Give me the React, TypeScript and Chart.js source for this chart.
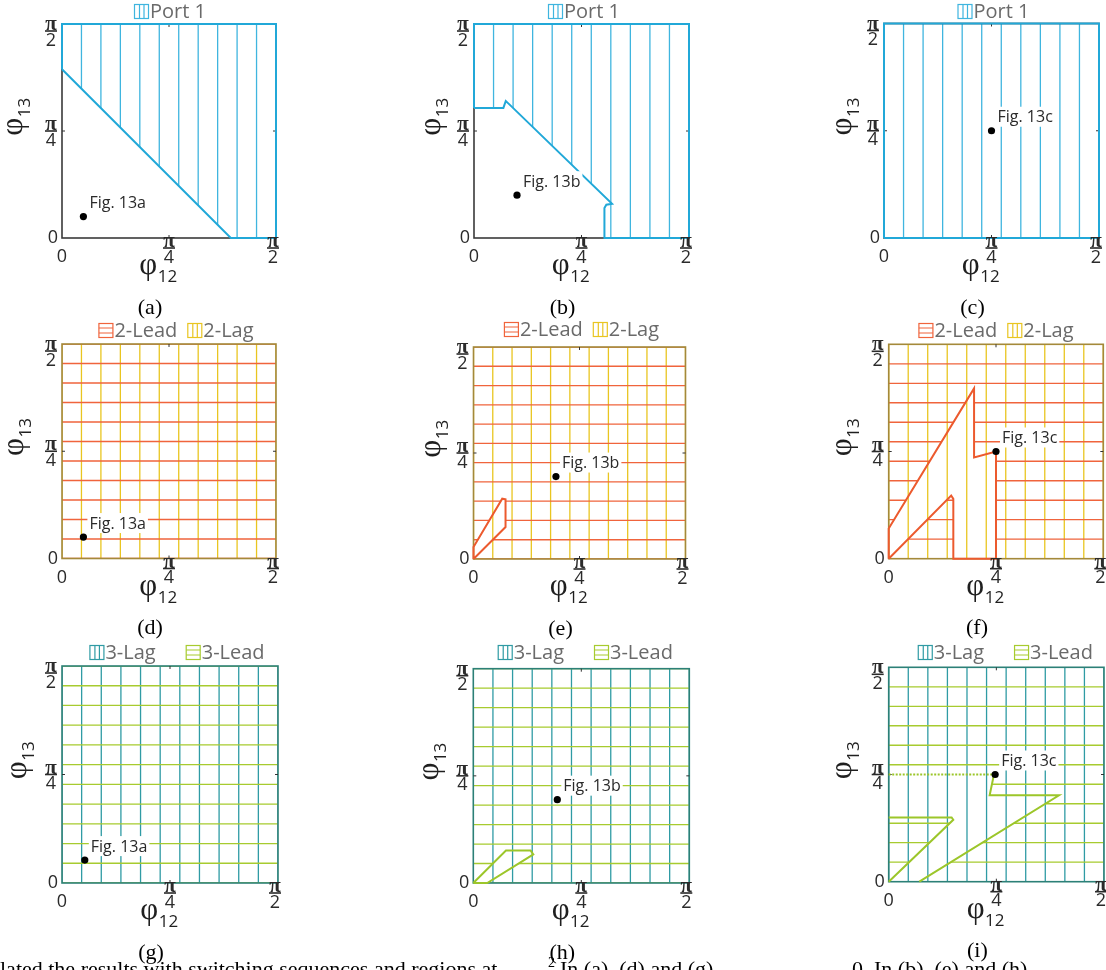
import React, { useEffect, useRef } from "react";
import { Chart, registerables } from "chart.js";

Chart.register(...registerables);

type Pt = [number, number];

// Angles are stored in degrees: 90 corresponds to π/2.
const AXIS_MIN = 0;
const AXIS_MAX = 90;
const TICK_VALUES = [0, 45, 90];
const TICK_NUMERATORS = ["", "π", "π"];
const TICK_DENOMINATORS = ["0", "4", "2"];
const HATCH_COUNT = 11;

const FULL_SQUARE: Pt[] = [[0, 0], [0, 90], [90, 90], [90, 0]];

// Port 1 admissible regions
const port1RegionA: Pt[] = [[0, 71], [0, 90], [90, 90], [90, 0], [71, 0]];
const port1RegionB: Pt[] = [
  [0, 54.7], [12.3, 54.7], [13.3, 57.6], [14.8, 56.2], [57.8, 14.4], [55.4, 14.0],
  [54.6, 12.6], [54.6, 0], [90, 0], [90, 90], [0, 90],
];
const port1RegionC: Pt[] = FULL_SQUARE;

// Holes cut out of the otherwise full 2-Lead / 3-Lead regions
const lead2HoleE: Pt[] = [[0, 0], [0, 5.1], [12.2, 25.6], [13.6, 25.3], [13.6, 13.6]];
const lead2HoleF: Pt[] = [
  [0, 0], [0, 12.7], [35.8, 71.5], [35.8, 42.5], [45, 45], [45, 0], [27.1, 0], [27.1, 25.1], [26.2, 26.5],
];
const lead3HoleH: Pt[] = [[0, 0], [13.6, 13.6], [23.9, 13.6], [25, 12], [5.8, 0]];
const lead3HoleI: Pt[] = [
  [0, 45], [44, 45], [42.2, 36.3], [71.2, 36.3], [12.8, 0], [0, 0], [27, 26], [26.3, 27], [0, 27],
];
const lead3EdgeUpperI: Pt[] = [[44, 45], [42.2, 36.3], [71.2, 36.3], [12.8, 0]];
const lead3EdgeLowerI: Pt[] = [[0, 0], [27, 26], [26.3, 27], [0, 27]];
const lead3DottedEdgeI: Pt[] = [[0, 45], [44, 45]];

// Operating points marked in each panel
const operatingX = [9, 18, 45, 9, 35, 45, 9.5, 35, 44.5];
const operatingY = [9, 18, 45, 9, 35, 45, 9.5, 35, 45];
const operatingLabels = ["Fig. 13a", "Fig. 13b", "Fig. 13c", "Fig. 13a", "Fig. 13b", "Fig. 13c", "Fig. 13a", "Fig. 13b", "Fig. 13c"];
const captions = ["(a)", "(b)", "(c)", "(d)", "(e)", "(f)", "(g)", "(h)", "(i)"];

const PORT1 = { name: "Port 1", color: "#3fb5df", dir: "v" as const };
const LEAD2 = { name: "2-Lead", color: "#f0643c", dir: "h" as const };
const LAG2 = { name: "2-Lag", color: "#e9c520", dir: "v" as const };
const LAG3 = { name: "3-Lag", color: "#2f9ba4", dir: "v" as const };
const LEAD3 = { name: "3-Lead", color: "#a7cb2f", dir: "h" as const };

interface Region { name: string; color: string; dir: "v" | "h"; area: Pt[]; holes: Pt[][] }
interface Outline { pts: Pt[]; color: string; closed?: boolean; dash?: number[] }
interface Box { left: number; top: number; width: number; height: number }
interface Panel {
  idx: number;
  canvas: { x: number; y: number; w: number; h: number };
  area: Box;
  regions: Region[];
  legend: { name: string; color: string; dir: "v" | "h" }[];
  legendGap: number;
  legendDx: number;
  legendY: number;
  outlines: Outline[];
  boxColor: string;
  yTitleDx: number;
}

const COL_X = [0, 400, 810];
const COL_W = [400, 410, 296];
const ROW_Y = [0, 320, 640];
const ROW_H = [320, 320, 330];

const AREAS: Box[] = [
  { left: 62, top: 24, width: 214, height: 214 },
  { left: 474, top: 24, width: 215, height: 214 },
  { left: 884, top: 23.5, width: 215, height: 214.5 },
  { left: 62, top: 344, width: 214, height: 214.5 },
  { left: 473.5, top: 347, width: 212, height: 212 },
  { left: 888.7, top: 344.3, width: 214.6, height: 214.4 },
  { left: 62, top: 666, width: 216, height: 217 },
  { left: 473.3, top: 668.7, width: 216, height: 214.3 },
  { left: 888.7, top: 667.3, width: 215.3, height: 214.4 },
];
const LEGEND_Y = [11, 11, 11, 330, 329, 330, 652, 652, 652];
const LEGEND_DX = [1, 2.5, 2, 7, 2, 0, 7, 4, 9];
const Y_TITLE_DX = [-45, -39, -38, -44, -39, -43, -41, -40, -43];

function reg(s: { name: string; color: string; dir: "v" | "h" }, area: Pt[], holes: Pt[][] = []): Region {
  return { ...s, area, holes };
}

const panelContent: Pick<Panel, "regions" | "legend" | "legendGap" | "outlines" | "boxColor">[] = [
  { regions: [reg(PORT1, port1RegionA)], legend: [PORT1], legendGap: 0, outlines: [{ pts: port1RegionA, color: "#21a8d8", closed: true }], boxColor: "#3a3a3a" },
  { regions: [reg(PORT1, port1RegionB)], legend: [PORT1], legendGap: 0, outlines: [{ pts: port1RegionB, color: "#21a8d8", closed: true }], boxColor: "#3a3a3a" },
  { regions: [reg(PORT1, port1RegionC)], legend: [PORT1], legendGap: 0, outlines: [{ pts: port1RegionC, color: "#21a8d8", closed: true }], boxColor: "#3a3a3a" },
  { regions: [reg(LAG2, FULL_SQUARE), reg(LEAD2, FULL_SQUARE)], legend: [LEAD2, LAG2], legendGap: 10, outlines: [], boxColor: "#a4893a" },
  { regions: [reg(LAG2, FULL_SQUARE), reg(LEAD2, FULL_SQUARE, [lead2HoleE])], legend: [LEAD2, LAG2], legendGap: 10, outlines: [{ pts: lead2HoleE, color: "#ec5a2e", closed: true }], boxColor: "#a4893a" },
  { regions: [reg(LAG2, FULL_SQUARE), reg(LEAD2, FULL_SQUARE, [lead2HoleF])], legend: [LEAD2, LAG2], legendGap: 10, outlines: [{ pts: lead2HoleF, color: "#ec5a2e", closed: true }], boxColor: "#a4893a" },
  { regions: [reg(LAG3, FULL_SQUARE), reg(LEAD3, FULL_SQUARE)], legend: [LAG3, LEAD3], legendGap: 30, outlines: [], boxColor: "#2c8077" },
  { regions: [reg(LAG3, FULL_SQUARE), reg(LEAD3, FULL_SQUARE, [lead3HoleH])], legend: [LAG3, LEAD3], legendGap: 30, outlines: [{ pts: lead3HoleH, color: "#9cc62a", closed: true }], boxColor: "#2c8077" },
  {
    regions: [reg(LAG3, FULL_SQUARE), reg(LEAD3, FULL_SQUARE, [lead3HoleI])], legend: [LAG3, LEAD3], legendGap: 30,
    outlines: [
      { pts: lead3EdgeUpperI, color: "#9cc62a" },
      { pts: lead3EdgeLowerI, color: "#9cc62a" },
      { pts: lead3DottedEdgeI, color: "#9cc62a", dash: [2, 1.5] },
    ],
    boxColor: "#2c8077",
  },
];

const PANELS: Panel[] = panelContent.map((c, i) => {
  const col = i % 3;
  const row = Math.floor(i / 3);
  return {
    ...c,
    idx: i,
    canvas: { x: COL_X[col], y: ROW_Y[row], w: COL_W[col], h: ROW_H[row] },
    area: AREAS[i],
    legendDx: LEGEND_DX[i],
    legendY: LEGEND_Y[i] - ROW_Y[row],
    yTitleDx: Y_TITLE_DX[i],
  };
});

const TEXT_FONT = "'Open Sans', 'DejaVu Sans', sans-serif";
const PI_FONT = "bold 21px 'Liberation Serif', serif";
const PHI_FONT = "31px 'Liberation Serif', serif";

function drawFraction(ctx: CanvasRenderingContext2D, cx: number, barY: number, num: string, den: string) {
  ctx.fillStyle = "#2b2b2b";
  ctx.textAlign = "center";
  ctx.textBaseline = "alphabetic";
  ctx.font = PI_FONT;
  ctx.fillText(num, cx, barY - 1);
  ctx.fillRect(cx - 6, barY - 0.8, 12, 1.6);
  ctx.font = `18px ${TEXT_FONT}`;
  ctx.fillText(den, cx, barY + 14.5);
}

function drawPhiTitle(ctx: CanvasRenderingContext2D, sub: string) {
  ctx.fillStyle = "#1f1f1f";
  ctx.textBaseline = "alphabetic";
  ctx.textAlign = "left";
  ctx.font = PHI_FONT;
  const wPhi = ctx.measureText("φ").width;
  ctx.font = `17px ${TEXT_FONT}`;
  const wSub = ctx.measureText(sub).width;
  const x0 = -(wPhi + wSub) / 2;
  ctx.font = PHI_FONT;
  ctx.fillText("φ", x0, 5);
  ctx.font = `17px ${TEXT_FONT}`;
  ctx.fillText(sub, x0 + wPhi + 0.5, 13);
}

function drawLegend(ctx: CanvasRenderingContext2D, cx: number, cy: number, entries: Panel["legend"], gap: number) {
  ctx.font = `20px ${TEXT_FONT}`;
  const iconW = 15;
  const widths = entries.map((e) => iconW + 1 + ctx.measureText(e.name).width);
  const total = widths.reduce((a, b) => a + b, 0) + gap * (entries.length - 1);
  let x = cx - total / 2;
  entries.forEach((e, i) => {
    const top = cy - 7;
    ctx.strokeStyle = e.color;
    ctx.lineWidth = 1.2;
    ctx.strokeRect(x + 0.5, top + 0.5, iconW - 1, 14);
    ctx.beginPath();
    if (e.dir === "v") {
      ctx.moveTo(x + 5.5, top + 0.5); ctx.lineTo(x + 5.5, top + 14.5);
      ctx.moveTo(x + 10, top + 0.5); ctx.lineTo(x + 10, top + 14.5);
    } else {
      ctx.moveTo(x + 0.5, top + 5); ctx.lineTo(x + iconW - 0.5, top + 5);
      ctx.moveTo(x + 0.5, top + 10); ctx.lineTo(x + iconW - 0.5, top + 10);
    }
    ctx.stroke();
    ctx.fillStyle = "#6a6a6a";
    ctx.textAlign = "left";
    ctx.textBaseline = "middle";
    ctx.fillText(e.name, x + iconW + 1, cy + 1);
    x += widths[i] + gap;
  });
}

function makeDecorPlugin(panel: Panel) {
  return {
    id: "panelDecor",
    beforeDatasetsDraw(chart: Chart) {
      const { ctx, chartArea } = chart;
      const xs = chart.scales.x;
      const ys = chart.scales.y;
      const trace = (poly: Pt[]) => {
        poly.forEach(([vx, vy], k) => {
          const px = xs.getPixelForValue(vx);
          const py = ys.getPixelForValue(vy);
          if (k === 0) ctx.moveTo(px, py); else ctx.lineTo(px, py);
        });
        ctx.closePath();
      };
      // hatched regions
      for (const r of panel.regions) {
        ctx.save();
        ctx.beginPath();
        trace(r.area);
        r.holes.forEach(trace);
        ctx.clip("evenodd");
        ctx.strokeStyle = r.color;
        ctx.lineWidth = 1.3;
        ctx.beginPath();
        for (let k = 0; k <= HATCH_COUNT; k++) {
          const v = (k * AXIS_MAX) / HATCH_COUNT;
          if (r.dir === "v") {
            const px = xs.getPixelForValue(v);
            ctx.moveTo(px, chartArea.top);
            ctx.lineTo(px, chartArea.bottom);
          } else {
            const py = ys.getPixelForValue(v);
            ctx.moveTo(chartArea.left, py);
            ctx.lineTo(chartArea.right, py);
          }
        }
        ctx.stroke();
        ctx.restore();
      }
      // axes box and inner ticks
      ctx.save();
      ctx.strokeStyle = panel.boxColor;
      ctx.lineWidth = 1.6;
      ctx.strokeRect(chartArea.left, chartArea.top, chartArea.right - chartArea.left, chartArea.bottom - chartArea.top);
      ctx.strokeStyle = "#333";
      ctx.lineWidth = 1;
      ctx.beginPath();
      const mx = xs.getPixelForValue(45);
      const my = ys.getPixelForValue(45);
      ctx.moveTo(mx, chartArea.bottom); ctx.lineTo(mx, chartArea.bottom - 3);
      ctx.moveTo(mx, chartArea.top); ctx.lineTo(mx, chartArea.top + 3);
      ctx.moveTo(chartArea.left, my); ctx.lineTo(chartArea.left + 3, my);
      ctx.moveTo(chartArea.right, my); ctx.lineTo(chartArea.right - 3, my);
      ctx.stroke();
      ctx.restore();
    },
    afterDatasetsDraw(chart: Chart) {
      const { ctx, chartArea } = chart;
      const xs = chart.scales.x;
      const ys = chart.scales.y;
      const i = panel.idx;
      ctx.save();

      // operating point label with white backing
      const dx = xs.getPixelForValue(operatingX[i]);
      const dy = ys.getPixelForValue(operatingY[i]);
      ctx.font = `16px ${TEXT_FONT}`;
      const lw = ctx.measureText(operatingLabels[i]).width;
      ctx.fillStyle = "#ffffff";
      ctx.fillRect(dx + 4, dy - 24, lw + 4, 20);
      ctx.fillStyle = "#2a2a2a";
      ctx.textAlign = "left";
      ctx.textBaseline = "middle";
      ctx.fillText(operatingLabels[i], dx + 6, dy - 13);
      ctx.beginPath();
      ctx.arc(dx, dy, 3.6, 0, Math.PI * 2);
      ctx.fillStyle = "#000";
      ctx.fill();

      // y tick labels
      TICK_VALUES.forEach((v, k) => {
        const py = ys.getPixelForValue(v);
        if (!TICK_NUMERATORS[k]) {
          ctx.font = `18px ${TEXT_FONT}`;
          ctx.fillStyle = "#2b2b2b";
          ctx.textAlign = "right";
          ctx.textBaseline = "middle";
          ctx.fillText(TICK_DENOMINATORS[k], chartArea.left - 4, py);
        } else {
          const barY = v === AXIS_MAX ? py + 7 : py;
          drawFraction(ctx, chartArea.left - 11, barY, TICK_NUMERATORS[k], TICK_DENOMINATORS[k]);
        }
      });
      // x tick labels
      TICK_VALUES.forEach((v, k) => {
        const px = xs.getPixelForValue(v);
        if (!TICK_NUMERATORS[k]) {
          ctx.font = `18px ${TEXT_FONT}`;
          ctx.fillStyle = "#2b2b2b";
          ctx.textAlign = "center";
          ctx.textBaseline = "middle";
          ctx.fillText(TICK_DENOMINATORS[k], px, chartArea.bottom + 19);
        } else {
          const cx = v === AXIS_MAX ? px - 3 : px;
          drawFraction(ctx, cx, chartArea.bottom + 10, TICK_NUMERATORS[k], TICK_DENOMINATORS[k]);
        }
      });

      const midX = (chartArea.left + chartArea.right) / 2;
      const midY = (chartArea.top + chartArea.bottom) / 2;

      // axis titles
      ctx.save();
      ctx.translate(midX - 11, chartArea.bottom + 31);
      drawPhiTitle(ctx, "12");
      ctx.restore();
      ctx.save();
      ctx.translate(chartArea.left + panel.yTitleDx, midY - 14);
      ctx.rotate(-Math.PI / 2);
      drawPhiTitle(ctx, "13");
      ctx.restore();

      // legend
      drawLegend(ctx, midX + panel.legendDx, panel.legendY, panel.legend, panel.legendGap);

      // caption
      ctx.font = "22px 'Liberation Serif', serif";
      ctx.fillStyle = "#000";
      ctx.textAlign = "center";
      ctx.textBaseline = "middle";
      ctx.fillText(captions[i], midX - 19, chartArea.bottom + 70);
      ctx.restore();
    },
  };
}

function toXY(pts: Pt[], closed?: boolean) {
  const out = pts.map(([x, y]) => ({ x, y }));
  if (closed) out.push({ x: pts[0][0], y: pts[0][1] });
  return out;
}

function PanelChart({ panel }: { panel: Panel }) {
  const ref = useRef<HTMLCanvasElement>(null);
  const c = panel.canvas;
  useEffect(() => {
    if (!ref.current) return;
    const a = panel.area;
    const padding = {
      left: a.left - c.x,
      top: a.top - c.y,
      right: c.x + c.w - (a.left + a.width),
      bottom: c.y + c.h - (a.top + a.height),
    };
    const datasets: any[] = panel.outlines.map((o) => ({
      data: toXY(o.pts, o.closed),
      showLine: true,
      borderColor: o.color,
      borderWidth: 2,
      borderDash: o.dash || [],
      pointRadius: 0,
      fill: false,
      clip: 6,
      tension: 0,
    }));
    const chart = new Chart(ref.current, {
      type: "scatter",
      data: { datasets },
      options: {
        responsive: false,
        animation: false,
        devicePixelRatio: 1,
        layout: { padding },
        scales: {
          x: { type: "linear", min: AXIS_MIN, max: AXIS_MAX, display: false },
          y: { type: "linear", min: AXIS_MIN, max: AXIS_MAX, display: false },
        },
        plugins: { legend: { display: false }, tooltip: { enabled: false } },
      },
      plugins: [makeDecorPlugin(panel)],
    });
    return () => chart.destroy();
  }, [panel]);
  return (
    <canvas
      ref={ref}
      width={c.w}
      height={c.h}
      style={{ position: "absolute", left: c.x, top: c.y, width: c.w, height: c.h }}
    />
  );
}

export default function App() {
  return (
    <div style={{ position: "absolute", left: 0, top: 0, width: 1106, height: 970, overflow: "hidden", background: "#fff" }}>
      {PANELS.map((p) => (
        <PanelChart key={p.idx} panel={p} />
      ))}
      <div
        style={{
          position: "absolute", left: 0, top: 956, width: 1106, whiteSpace: "nowrap",
          font: "22px 'Liberation Serif', serif", color: "#000", lineHeight: "26px",
        }}
      >
        <span style={{ position: "absolute", left: 0 }}>lated the results with switching sequences and regions at</span>
        <span style={{ position: "absolute", left: 548, top: -6, fontSize: 14 }}>2</span>
        <span style={{ position: "absolute", left: 560 }}>In (a), (d) and (g)</span>
        <span style={{ position: "absolute", left: 852 }}>0. In (b), (e) and (h)</span>
      </div>
    </div>
  );
}
